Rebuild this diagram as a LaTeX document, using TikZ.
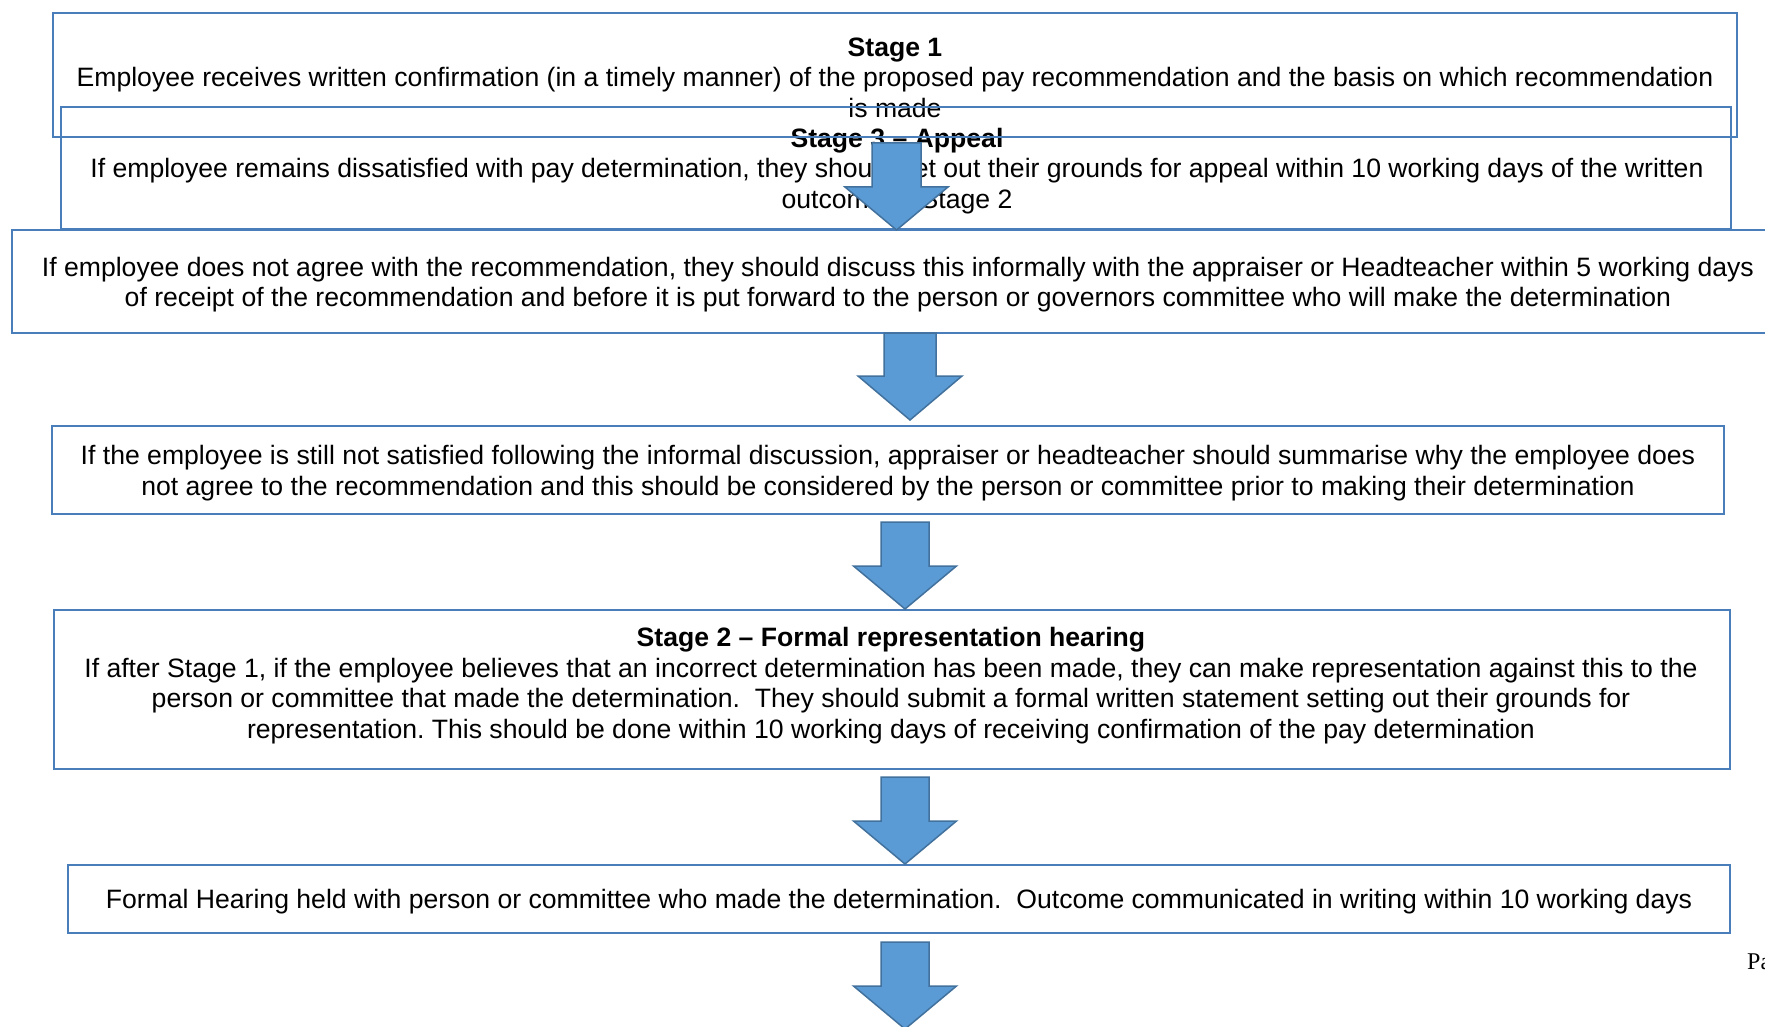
\documentclass[tikz,border=0pt]{standalone}
\usepackage{fontspec}
\setmainfont{Liberation Sans}
\newfontfamily\pagefont{Liberation Serif}
\usetikzlibrary{calc}
\definecolor{boxblue}{HTML}{4A7EBB}
\definecolor{arrowfill}{HTML}{5B9BD5}
\definecolor{arrowedge}{HTML}{41719C}
\frenchspacing
\tikzset{
  boxframe/.style={draw=boxblue, line width=2pt, rectangle, inner sep=0pt},
  boxtext/.style={align=center, inner sep=0pt, text=black,
    font=\fontsize{26.6}{30.5}\selectfont},
  blockarrow/.style={fill=arrowfill, draw=arrowedge, line width=1.5pt, line join=miter}
}
% #1 centre x, #2 top, #3 neck, #4 tip, #5 half shaft, #6 half head
\newcommand\bigdownarrow[6]{%
  \draw[blockarrow] ({#1-#5},#2) -- ({#1+#5},#2) -- ({#1+#5},#3) -- ({#1+#6},#3)
    -- (#1,#4) -- ({#1-#6},#3) -- ({#1-#5},#3) -- cycle;}
\begin{document}
\begin{tikzpicture}[x=1pt,y=-1pt]
\useasboundingbox (0,0) rectangle (1765,1027);
\clip (0,0) rectangle (1765,1027);
\fill[white] (0,0) rectangle (1765,1027);

% texts
\node[boxtext] (t1) at (895,77.5) {\textbf{Stage 1}\\Employee receives written confirmation (in a timely manner) of the proposed pay recommendation and the basis on which recommendation\\is made};
\node[boxtext] (t2) at (897,171) {\textbf{Stage 3 – Appeal}\\If employee remains dissatisfied with pay determination, they should set out their grounds for appeal within 10 working days of the written\\outcome of Stage 2};
\node[boxtext] (t3) at (898,284.5) {If employee does not agree with the recommendation, they should discuss this informally with the appraiser or Headteacher within 5 working days\\of receipt of the recommendation and before it is put forward to the person or governors committee who will make the determination};
\node[boxtext] (t4) at (888,473) {If the employee is still not satisfied following the informal discussion, appraiser or headteacher should summarise why the employee does\\not agree to the recommendation and this should be considered by the person or committee prior to making their determination};
\node[boxtext] (t5) at (891,685.5) {\textbf{Stage 2 – Formal representation hearing}\\If after Stage 1, if the employee believes that an incorrect determination has been made, they can make representation against this to the\\person or committee that made the determination.~ They should submit a formal written statement setting out their grounds for\\representation. This should be done within 10 working days of receiving confirmation of the pay determination};
\node[boxtext] (t6) at (899,902) {Formal Hearing held with person or committee who made the determination.~ Outcome communicated in writing within 10 working days};

% frames
\node[boxframe, minimum width=1684pt, minimum height=124pt] (b1) at (895,75) {};
\node[boxframe, minimum width=1670pt, minimum height=122pt] (b2) at (896,168) {};
\node[boxframe, minimum width=1773.5pt, minimum height=103pt] (b3) at (898.25,281.5) {};
\node[boxframe, minimum width=1672pt, minimum height=88pt] (b4) at (888,470) {};
\node[boxframe, minimum width=1676.5pt, minimum height=159pt] (b5) at (891.75,689.5) {};
\node[boxframe, minimum width=1662pt, minimum height=68pt] (b6) at (899,899) {};

% block arrows
\bigdownarrow{896.5}{143}{187}{230}{24.5}{51.5}
\bigdownarrow{910}{333}{376}{420}{26}{52}
\bigdownarrow{905}{522}{566}{609}{24}{51.5}
\bigdownarrow{905}{777}{821}{864}{24}{51.5}
\bigdownarrow{905}{942}{986}{1029}{24}{51.5}

% page footer fragment
\node[font=\pagefont\fontsize{24}{28}\selectfont, anchor=base west, inner sep=0pt] (pg) at (1747,969) {Pa};
\end{tikzpicture}
\end{document}
